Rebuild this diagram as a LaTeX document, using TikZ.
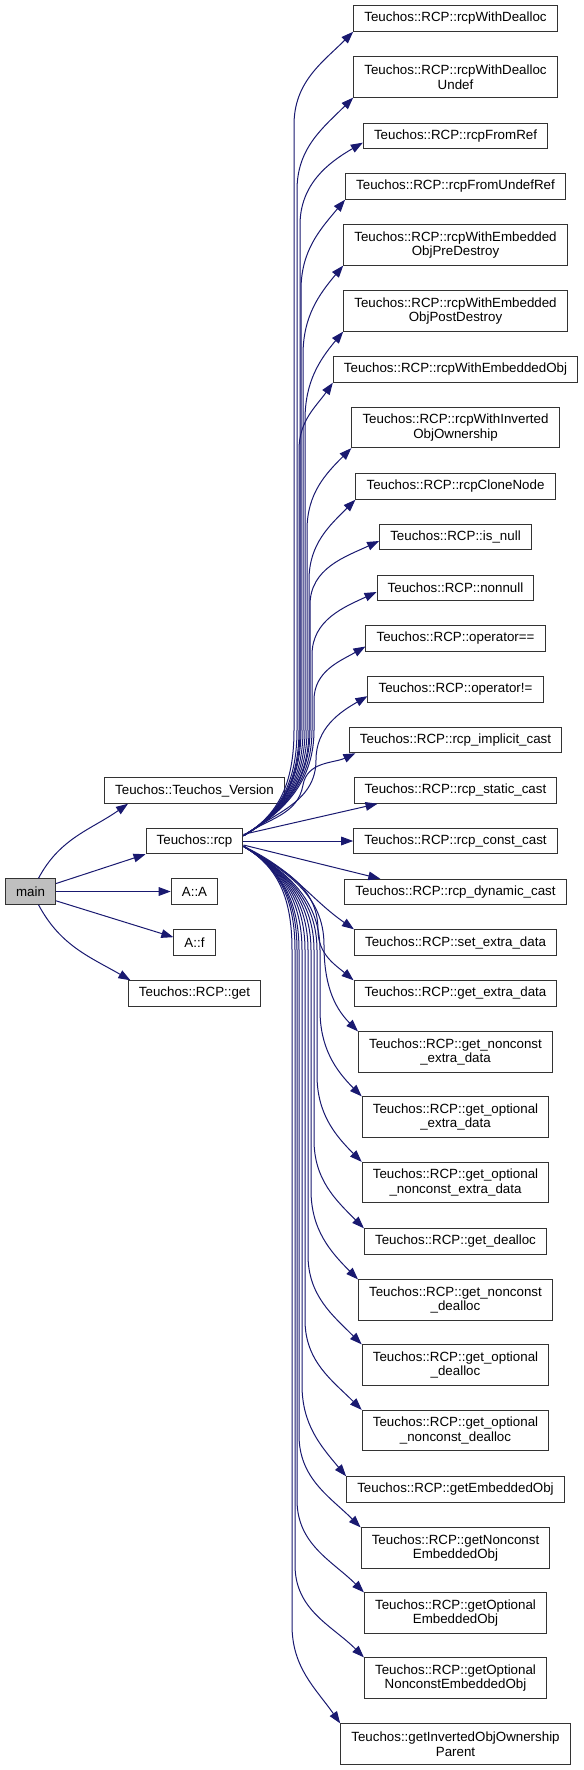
\documentclass[tikz,border=0pt]{standalone}
\usepackage{fontspec}
\setmainfont{Liberation Sans}
\usetikzlibrary{arrows.meta}
\definecolor{Navy}{HTML}{191970}
\definecolor{Grey}{HTML}{BFBFBF}
\definecolor{Frame}{HTML}{333333}
\tikzset{
    fnnode/.style={rectangle, draw=Frame, line width=0.75pt, fill=white, text=black, align=center, font=\fontsize{10}{11}\selectfont, inner xsep=8pt, inner ysep=0pt, minimum height=19.1pt},
    fnnode2/.style={fnnode, minimum height=30.2pt},
    mainnode/.style={fnnode, fill=Grey},
    arrow/.style={-{Triangle[length=9pt, width=6.5pt]}, line width=0.75pt, color=Navy},
}
\begin{document}
\begin{tikzpicture}[x=0.75pt, y=0.75pt]
    \useasboundingbox (0,0) rectangle (583,-1770);

    % Chiamante
    \node[mainnode] (main) at (30.5,-891.5) {main};

    % Chiamate dirette
    \node[fnnode] (ver) at (194.5,-790.5) {Teuchos::Teuchos\_Version};
    \node[fnnode] (rcp) at (194.5,-841) {Teuchos::rcp};
    \node[fnnode] (aa) at (194.5,-891.5) {A::A};
    \node[fnnode] (af) at (194.5,-942.5) {A::f};
    \node[fnnode] (get) at (194.5,-993.5) {Teuchos::RCP::get};

    % Chiamate di Teuchos::rcp
    \node[fnnode] (wd) at (455.5,-18.5) {Teuchos::RCP::rcpWithDealloc};
    \node[fnnode2] (wdu) at (455.5,-77) {Teuchos::RCP::rcpWithDealloc\\Undef};
    \node[fnnode] (fref) at (455.5,-136) {Teuchos::RCP::rcpFromRef};
    \node[fnnode] (furef) at (455.5,-186.5) {Teuchos::RCP::rcpFromUndefRef};
    \node[fnnode2] (wpre) at (455.5,-245) {Teuchos::RCP::rcpWithEmbedded\\ObjPreDestroy};
    \node[fnnode2] (wpost) at (455.5,-311) {Teuchos::RCP::rcpWithEmbedded\\ObjPostDestroy};
    \node[fnnode] (wemb) at (455.5,-369.5) {Teuchos::RCP::rcpWithEmbeddedObj};
    \node[fnnode2] (winv) at (455.5,-427.5) {Teuchos::RCP::rcpWithInverted\\ObjOwnership};
    \node[fnnode] (clone) at (455.5,-486.5) {Teuchos::RCP::rcpCloneNode};
    \node[fnnode] (isnull) at (455.5,-537) {Teuchos::RCP::is\_null};
    \node[fnnode] (nonnull) at (455.5,-588) {Teuchos::RCP::nonnull};
    \node[fnnode] (opeq) at (455.5,-638.5) {Teuchos::RCP::operator==};
    \node[fnnode] (opne) at (455.5,-689.5) {Teuchos::RCP::operator!=};
    \node[fnnode] (impl) at (455.5,-740) {Teuchos::RCP::rcp\_implicit\_cast};
    \node[fnnode] (stat) at (455.5,-790.5) {Teuchos::RCP::rcp\_static\_cast};
    \node[fnnode] (const) at (455.5,-841) {Teuchos::RCP::rcp\_const\_cast};
    \node[fnnode] (dyn) at (455.5,-892) {Teuchos::RCP::rcp\_dynamic\_cast};
    \node[fnnode] (setx) at (455.5,-942.5) {Teuchos::RCP::set\_extra\_data};
    \node[fnnode] (getx) at (455.5,-993.5) {Teuchos::RCP::get\_extra\_data};
    \node[fnnode2] (getncx) at (455.5,-1052) {Teuchos::RCP::get\_nonconst\\\_extra\_data};
    \node[fnnode2] (getox) at (455.5,-1117) {Teuchos::RCP::get\_optional\\\_extra\_data};
    \node[fnnode2] (getoncx) at (455.5,-1182.5) {Teuchos::RCP::get\_optional\\\_nonconst\_extra\_data};
    \node[fnnode] (getd) at (455.5,-1241.5) {Teuchos::RCP::get\_dealloc};
    \node[fnnode2] (getncd) at (455.5,-1300) {Teuchos::RCP::get\_nonconst\\\_dealloc};
    \node[fnnode2] (getod) at (455.5,-1365) {Teuchos::RCP::get\_optional\\\_dealloc};
    \node[fnnode2] (getoncd) at (455.5,-1430.5) {Teuchos::RCP::get\_optional\\\_nonconst\_dealloc};
    \node[fnnode] (gemb) at (455.5,-1489.5) {Teuchos::RCP::getEmbeddedObj};
    \node[fnnode2] (gncemb) at (455.5,-1548) {Teuchos::RCP::getNonconst\\EmbeddedObj};
    \node[fnnode2] (goemb) at (455.5,-1613) {Teuchos::RCP::getOptional\\EmbeddedObj};
    \node[fnnode2] (goncemb) at (455.5,-1678) {Teuchos::RCP::getOptional\\NonconstEmbeddedObj};
    \node[fnnode2] (ginv) at (455.5,-1744) {Teuchos::getInvertedObjOwnership\\Parent};

    % Archi da main
    \draw[arrow] ([xshift=6pt]main.north) to[out=62,in=-145] ([xshift=18pt]ver.south west);
    \draw[arrow] ([yshift=6pt]main.east) -- (rcp.south west);
    \draw[arrow] (main.east) -- (aa.west);
    \draw[arrow] ([yshift=-7pt]main.east) -- ([yshift=4pt]af.west);
    \draw[arrow] ([xshift=6pt]main.south) to[out=-62,in=150] ([xshift=2pt]get.north west);

    % Archi verso l'alto
    \draw[arrow] ([yshift=4pt]rcp.east) to[out=30,in=-90] (294,-730) -- (294,-125) to[out=90,in=-135] (wd.south west);
    \draw[arrow] ([yshift=4pt]rcp.east) to[out=30,in=-90] (297,-730) -- (297,-190) to[out=90,in=-135] (wdu.south west);
    \draw[arrow] ([yshift=4pt]rcp.east) to[out=30,in=-90] (300,-730) -- (300,-225) to[out=90,in=-150] ([yshift=-5pt]fref.west);
    \draw[arrow] ([yshift=4pt]rcp.east) to[out=30,in=-90] (301,-730) -- (301,-290) to[out=90,in=-130] (furef.south west);
    \draw[arrow] ([yshift=4pt]rcp.east) to[out=30,in=-90] (303,-730) -- (303,-355) to[out=90,in=-130] (wpre.south west);
    \draw[arrow] ([yshift=4pt]rcp.east) to[out=30,in=-90] (305,-730) -- (305,-420) to[out=90,in=-130] (wpost.south west);
    \draw[arrow] ([yshift=4pt]rcp.east) to[out=30,in=-90] (299,-730) -- (299,-450) to[out=90,in=-125] (wemb.south west);
    \draw[arrow] ([yshift=4pt]rcp.east) to[out=30,in=-90] (307,-730) -- (307,-530) to[out=90,in=-135] (winv.south west);
    \draw[arrow] ([yshift=4pt]rcp.east) to[out=30,in=-90] (309,-730) -- (309,-580) to[out=90,in=-135] (clone.south west);
    \draw[arrow] ([yshift=4pt]rcp.east) to[out=30,in=-90] (310,-730) -- (310,-605) to[out=90,in=-155] ([yshift=-3pt]isnull.west);
    \draw[arrow] ([yshift=4pt]rcp.east) to[out=30,in=-90] (312,-730) -- (312,-655) to[out=90,in=-155] ([yshift=-3pt]nonnull.west);
    \draw[arrow] ([yshift=4pt]rcp.east) to[out=30,in=-90] (314,-730) -- (314,-700) to[out=90,in=-150] ([yshift=-6pt]opeq.west);
    \draw[arrow] ([yshift=4pt]rcp.east) to[out=35,in=-90] (316,-760) to[out=90,in=-150] ([yshift=-5pt]opne.west);
    \draw[arrow] ([yshift=4pt]rcp.east) to[out=35,in=-100] (303,-785) to[out=80,in=-155] ([xshift=5pt]impl.south west);

    % Archi quasi diritti
    \draw[arrow] ([yshift=5pt]rcp.east) -- ([xshift=18pt]stat.south west);
    \draw[arrow] (rcp.east) -- (const.west);
    \draw[arrow] ([yshift=-3pt]rcp.east) -- ([xshift=27pt]dyn.north west);

    % Archi verso il basso
    \draw[arrow] ([yshift=-4pt]rcp.east) to[out=-25,in=145] (setx.north west);
    \draw[arrow] ([yshift=-4pt]rcp.east) to[out=-30,in=90] (318,-930) to[out=-90,in=140] (getx.north west);
    \draw[arrow] ([yshift=-4pt]rcp.east) to[out=-30,in=90] (324,-945) to[out=-90,in=135] (getncx.north west);
    \draw[arrow] ([yshift=-4pt]rcp.east) to[out=-30,in=90] (320,-950) -- (320,-1010) to[out=-90,in=135] (getox.north west);
    \draw[arrow] ([yshift=-4pt]rcp.east) to[out=-30,in=90] (317,-950) -- (317,-1075) to[out=-90,in=135] (getoncx.north west);
    \draw[arrow] ([yshift=-4pt]rcp.east) to[out=-30,in=90] (314,-950) -- (314,-1140) to[out=-90,in=135] (getd.north west);
    \draw[arrow] ([yshift=-4pt]rcp.east) to[out=-30,in=90] (311,-950) -- (311,-1190) to[out=-90,in=135] (getncd.north west);
    \draw[arrow] ([yshift=-4pt]rcp.east) to[out=-30,in=90] (308,-950) -- (308,-1255) to[out=-90,in=135] (getod.north west);
    \draw[arrow] ([yshift=-4pt]rcp.east) to[out=-30,in=90] (305,-950) -- (305,-1320) to[out=-90,in=135] (getoncd.north west);
    \draw[arrow] ([yshift=-4pt]rcp.east) to[out=-30,in=90] (302,-950) -- (302,-1385) to[out=-90,in=130] (gemb.north west);
    \draw[arrow] ([yshift=-4pt]rcp.east) to[out=-30,in=90] (299,-950) -- (299,-1435) to[out=-90,in=135] (gncemb.north west);
    \draw[arrow] ([yshift=-4pt]rcp.east) to[out=-30,in=90] (297,-950) -- (297,-1500) to[out=-90,in=135] (goemb.north west);
    \draw[arrow] ([yshift=-4pt]rcp.east) to[out=-30,in=90] (295,-950) -- (295,-1565) to[out=-90,in=135] (goncemb.north west);
    \draw[arrow] ([yshift=-4pt]rcp.east) to[out=-30,in=90] (292,-950) -- (292,-1625) to[out=-90,in=125] (ginv.north west);
\end{tikzpicture}
\end{document}
